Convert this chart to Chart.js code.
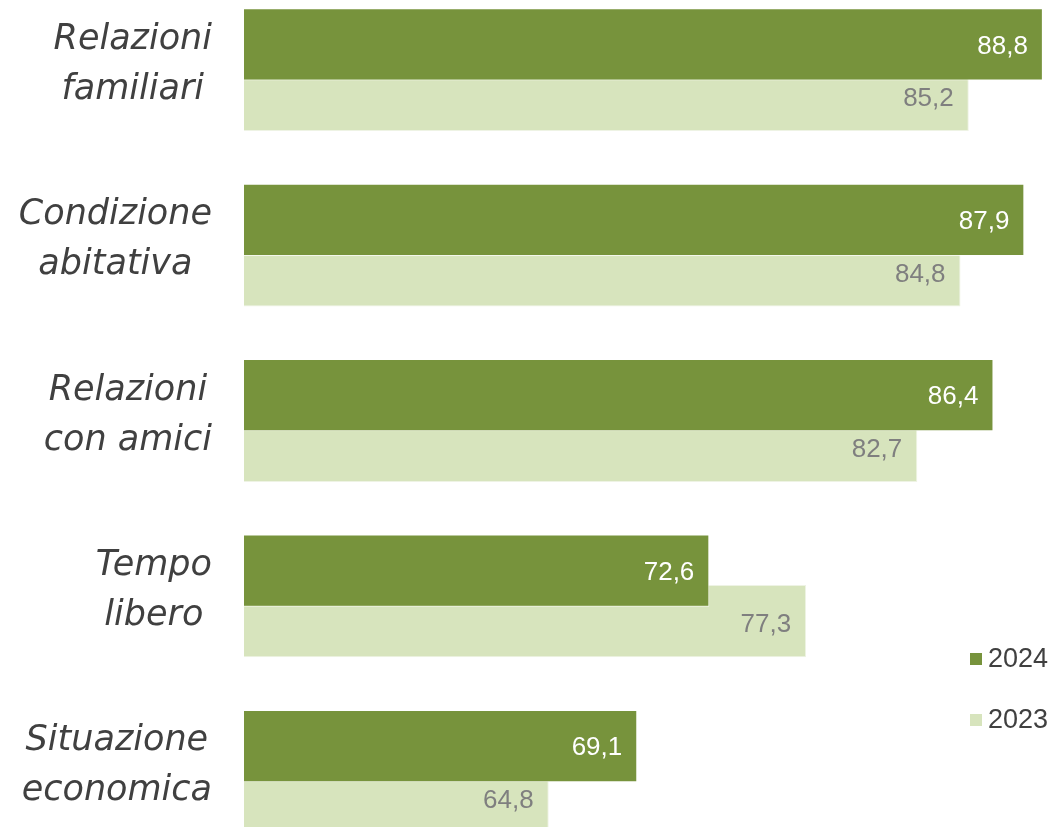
<!DOCTYPE html>
<html>
<head>
<meta charset="utf-8">
<script src="https://cdn.jsdelivr.net/npm/chart.js@4.4.1/dist/chart.umd.min.js"></script>
<style>
  html, body { margin: 0; padding: 0; background: #ffffff; }
  #frame { position: relative; width: 1053px; height: 827px; overflow: hidden; }
  #wrap { position: absolute; left: 0; top: -18px; width: 1053px; height: 877px; }
</style>
</head>
<body>
<div id="frame">
  <div id="wrap"><canvas id="chart"></canvas></div>
</div>
<script>
const categories = [
  ["Relazioni", "familiari"],
  ["Condizione", "abitativa"],
  ["Relazioni", "con amici"],
  ["Tempo", "libero"],
  ["Situazione", "economica"],
];
const seriesLabels = ["2024", "2023"];
const values2024 = [88.8, 87.9, 86.4, 72.6, 69.1];
const values2023 = [85.2, 84.8, 82.7, 77.3, 64.8];

const DARK = "#77933c";
const LIGHT = "#d7e4bd";
const AXIS_RIGHT = 244;

function formatValue(v) {
  return v.toFixed(1).replace(".", ",");
}

// category labels: lines centred on each other, block right-aligned
const categoryLabels = {
  id: "categoryLabels",
  afterDraw(chart) {
    const ctx = chart.ctx;
    const y = chart.scales.y;
    ctx.save();
    ctx.font = "italic 35px 'DejaVu Sans'";
    ctx.fillStyle = "#404040";
    ctx.textAlign = "center";
    ctx.textBaseline = "middle";
    categories.forEach((lines, i) => {
      const widest = Math.max(...lines.map((l) => ctx.measureText(l).width));
      const cx = AXIS_RIGHT - 32 - widest / 2;
      const cy = y.getPixelForTick(i) - 5;
      lines.forEach((line, j) => {
        ctx.fillText(line, cx, cy + (j - (lines.length - 1) / 2) * 50);
      });
    });
    ctx.restore();
  },
};

const valueLabels = {
  id: "valueLabels",
  afterDatasetsDraw(chart) {
    const ctx = chart.ctx;
    ctx.save();
    ctx.font = "26px 'Liberation Sans'";
    ctx.textAlign = "right";
    ctx.textBaseline = "middle";
    chart.data.datasets.forEach((ds, di) => {
      const meta = chart.getDatasetMeta(di);
      ctx.fillStyle = di === 0 ? "#ffffff" : "#7f7f7f";
      meta.data.forEach((bar, i) => {
        const dy = di === 0 ? 2 : 4;
        ctx.fillText(formatValue(ds.data[i]), bar.x - 15, bar.y + dy);
      });
    });
    ctx.restore();
  },
};

const sideLegend = {
  id: "sideLegend",
  afterDraw(chart) {
    const ctx = chart.ctx;
    ctx.save();
    ctx.font = "27px 'Liberation Sans'";
    ctx.textAlign = "left";
    ctx.textBaseline = "middle";
    chart.data.datasets.forEach((ds, i) => {
      const cy = 677 + i * 61;
      ctx.fillStyle = ds.backgroundColor;
      ctx.fillRect(970, cy - 6, 12, 12);
      ctx.fillStyle = "#404040";
      ctx.fillText(ds.label, 988, cy + 1);
    });
    ctx.restore();
  },
};

new Chart(document.getElementById("chart"), {
  type: "bar",
  data: {
    labels: categories,
    datasets: [
      {
        label: seriesLabels[0],
        data: values2024,
        backgroundColor: DARK,
        borderColor: "rgba(255,255,255,0.7)",
        borderWidth: 1,
      },
      {
        label: seriesLabels[1],
        data: values2023,
        backgroundColor: LIGHT,
        borderColor: "#eef3e4",
        borderWidth: 1,
      },
    ],
  },
  options: {
    indexAxis: "y",
    responsive: true,
    maintainAspectRatio: false,
    animation: false,
    categoryPercentage: 0.576,
    barPercentage: 1.43,
    layout: { padding: { left: 0, right: 6, top: 0, bottom: 0 } },
    scales: {
      x: {
        display: false,
        min: 50,
        max: 89,
      },
      y: {
        grid: { display: false },
        border: { display: false },
        ticks: { display: false },
        afterFit: (scale) => {
          scale.width = AXIS_RIGHT;
        },
      },
    },
    plugins: {
      legend: { display: false },
      tooltip: { enabled: false },
    },
  },
  plugins: [categoryLabels, valueLabels, sideLegend],
});
</script>
</body>
</html>
